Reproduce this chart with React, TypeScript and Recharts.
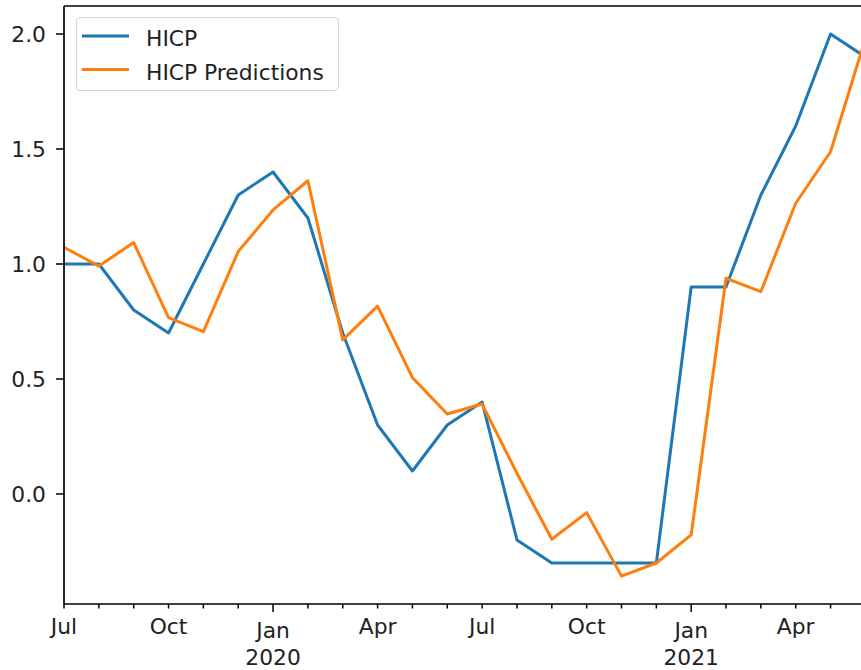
import React from "react";
import { Line, LineChart, ReferenceLine, XAxis, YAxis } from "recharts";

// monthly observations, Jul 2019 .. Jun 2021
const months = [
  "Jul", "Aug", "Sep", "Oct", "Nov", "Dec",
  "Jan", "Feb", "Mar", "Apr", "May", "Jun",
  "Jul", "Aug", "Sep", "Oct", "Nov", "Dec",
  "Jan", "Feb", "Mar", "Apr", "May", "Jun",
];
const years = [
  2019, 2019, 2019, 2019, 2019, 2019,
  2020, 2020, 2020, 2020, 2020, 2020,
  2020, 2020, 2020, 2020, 2020, 2020,
  2021, 2021, 2021, 2021, 2021, 2021,
];
const hicp = [
  1.0, 1.0, 0.8, 0.7, 1.0, 1.3,
  1.4, 1.2, 0.7, 0.3, 0.1, 0.3,
  0.4, -0.2, -0.3, -0.3, -0.3, -0.3,
  0.9, 0.9, 1.3, 1.6, 2.0, 1.9,
];
const predictions = [
  1.073, 0.991, 1.093, 0.767, 0.706, 1.054,
  1.235, 1.362, 0.67, 0.817, 0.506, 0.348,
  0.391, 0.09, -0.197, -0.081, -0.357, -0.3,
  -0.178, 0.938, 0.88, 1.264, 1.488, 1.98,
];
const labeledMonths = ["Jan", "Apr", "Jul", "Oct"];
const yTicks = [0, 0.5, 1.0, 1.5, 2.0];
const yDomain: [number, number] = [-0.4783, 2.1217];

const seriesNames = { hicp: "HICP", pred: "HICP Predictions" };
const blue = "#1f77b4";
const orange = "#ff7f0e";
const font = "DejaVu Sans";
const fontSize = 21.8;
const textColor = "#222";

const data = months.map((m, i) => ({
  idx: i,
  hicp: hicp[i],
  pred: predictions[i],
}));

const MonthTick = (props: any) => {
  const { x, y, payload } = props;
  const i = payload.value as number;
  const m = months[i];
  const isJan = m === "Jan";
  const showLabel = labeledMonths.includes(m);
  return (
    <g>
      <line x1={x} x2={x} y1={y} y2={y + (isJan ? 8 : 4.5)} stroke="#000" strokeWidth={1.5} />
      {showLabel && (
        <text x={x} y={y + (isJan ? 34 : 30)} textAnchor="middle" fontSize={fontSize} fontFamily={font} fill={textColor}>
          {m}
        </text>
      )}
      {isJan && (
        <text x={x} y={y + 61} textAnchor="middle" fontSize={fontSize} fontFamily={font} fill={textColor}>
          {years[i]}
        </text>
      )}
    </g>
  );
};

const ValueTick = (props: any) => {
  const { x, y, payload } = props;
  return (
    <g>
      <line x1={x - 8} x2={x} y1={y} y2={y} stroke="#000" strokeWidth={1.5} />
      <text x={x - 18} y={y + 8} textAnchor="end" fontSize={fontSize} fontFamily={font} fill={textColor}>
        {(payload.value as number).toFixed(1)}
      </text>
    </g>
  );
};

const App = () => {
  return (
    <div
      style={{
        position: "absolute",
        left: 0,
        top: 0,
        width: 861,
        height: 670,
        overflow: "hidden",
        background: "#fff",
      }}
    >
      <LineChart
        width={866}
        height={670}
        data={data}
        margin={{ top: 6, right: 0.6, bottom: 0, left: 0 }}
      >
        <XAxis
          dataKey="idx"
          type="number"
          domain={[0, months.length - 1]}
          ticks={months.map((_, i) => i)}
          interval={0}
          height={66}
          tickSize={0}
          tickMargin={0}
          tickLine={false}
          axisLine={{ stroke: "#000", strokeWidth: 1.7 }}
          tick={<MonthTick />}
        />
        <YAxis
          type="number"
          domain={yDomain}
          ticks={yTicks}
          allowDataOverflow
          width={64}
          tickSize={0}
          tickMargin={0}
          tickLine={false}
          axisLine={{ stroke: "#000", strokeWidth: 1.7 }}
          tick={<ValueTick />}
        />
        <ReferenceLine y={yDomain[1]} stroke="#000" strokeWidth={1.7} />
        <Line
          type="linear"
          dataKey="hicp"
          name={seriesNames.hicp}
          stroke={blue}
          strokeWidth={3}
          strokeLinejoin="round"
          dot={false}
          isAnimationActive={false}
        />
        <Line
          type="linear"
          dataKey="pred"
          name={seriesNames.pred}
          stroke={orange}
          strokeWidth={3}
          strokeLinejoin="round"
          dot={false}
          isAnimationActive={false}
        />
      </LineChart>
      <div
        style={{
          position: "absolute",
          left: 76,
          top: 17,
          width: 263,
          height: 74,
          boxSizing: "border-box",
          border: "1.5px solid #d4d4d4",
          borderRadius: 4,
          background: "rgba(255,255,255,0.8)",
        }}
      >
        <svg width={263} height={74} style={{ position: "absolute", left: -1.5, top: -1.5 }}>
          {[
            { name: seriesNames.hicp, color: blue },
            { name: seriesNames.pred, color: orange },
          ].map((s, i) => (
            <g key={s.name}>
              <line x1={6} x2={53} y1={19 + i * 33.5} y2={19 + i * 33.5} stroke={s.color} strokeWidth={3} />
              <text x={70} y={29 + i * 33.5} fontSize={fontSize} fontFamily={font} fill={textColor}>
                {s.name}
              </text>
            </g>
          ))}
        </svg>
      </div>
    </div>
  );
};

export default App;
